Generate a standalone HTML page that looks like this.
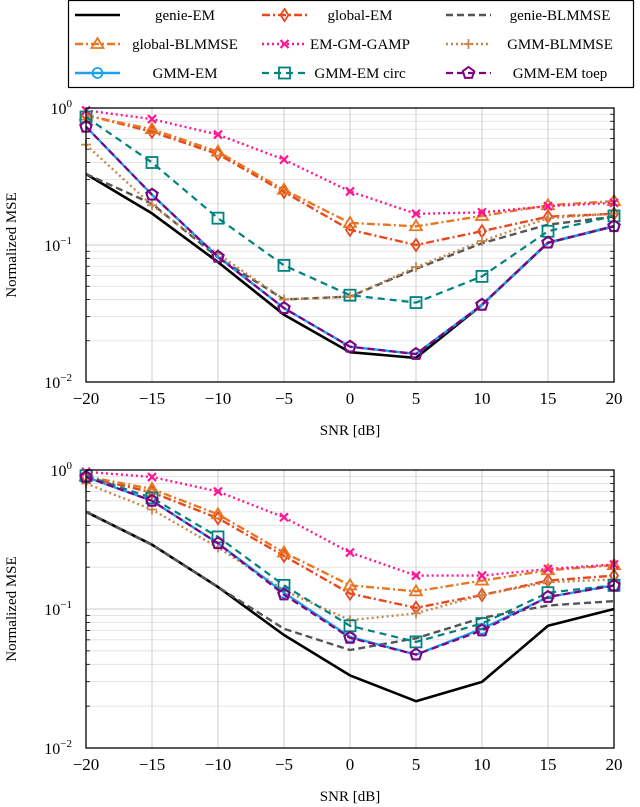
<!DOCTYPE html>
<html><head><meta charset="utf-8">
<style>
body{margin:0;background:#fff;}
svg{display:block;font-family:"Liberation Serif",serif;}
</style></head>
<body>
<svg id="c" width="640" height="807" viewBox="0 0 640 807" xmlns="http://www.w3.org/2000/svg"></svg>
<script>
const snr = [-20,-15,-10,-5,0,5,10,15,20];
const xTicks = [-20,-15,-10,-5,0,5,10,15,20];
const seriesNames = ["genie-EM","global-EM","genie-BLMMSE","global-BLMMSE","EM-GM-GAMP","GMM-BLMMSE","GMM-EM","GMM-EM circ","GMM-EM toep"];
// top panel values
const topGenieEM = [0.33,0.17,0.075,0.031,0.0165,0.015,0.0366,0.104,0.137];
const topGlobalEM = [0.89,0.67,0.46,0.244,0.129,0.1,0.126,0.161,0.169];
const topGenieBL = [0.33,0.2,0.081,0.040,0.042,0.067,0.103,0.141,0.161];
const topGlobalBL = [0.88,0.70,0.48,0.253,0.145,0.137,0.163,0.195,0.209];
const topGamp = [0.96,0.83,0.64,0.42,0.246,0.169,0.173,0.192,0.203];
const topGmmBL = [0.54,0.195,0.086,0.040,0.042,0.069,0.107,0.157,0.17];
const topGmmEM = [0.73,0.233,0.082,0.0346,0.0181,0.016,0.0366,0.104,0.137];
const topCirc = [0.86,0.40,0.157,0.071,0.043,0.038,0.059,0.126,0.163];
const topToep = [0.73,0.233,0.082,0.0346,0.0181,0.016,0.0366,0.104,0.137];
// bottom panel values
const botGenieEM = [0.50,0.29,0.144,0.065,0.0333,0.0217,0.0299,0.0757,0.1];
const botGlobalEM = [0.89,0.69,0.45,0.241,0.129,0.102,0.126,0.16,0.174];
const botGenieBL = [0.5,0.29,0.144,0.072,0.0507,0.0615,0.0863,0.106,0.114];
const botGlobalBL = [0.90,0.73,0.48,0.255,0.148,0.134,0.16,0.19,0.207];
const botGamp = [0.97,0.89,0.70,0.457,0.255,0.174,0.174,0.194,0.209];
const botGmmBL = [0.80,0.52,0.277,0.136,0.083,0.093,0.126,0.156,0.163];
const botGmmEM = [0.89,0.60,0.297,0.131,0.063,0.047,0.072,0.122,0.148];
const botCirc = [0.91,0.63,0.33,0.148,0.0757,0.058,0.0786,0.131,0.148];
const botToep = [0.89,0.60,0.297,0.127,0.062,0.047,0.070,0.122,0.147];

const styles = [
 {c:"#000",w:2.6,d:"",m:null},
 {c:"#e8481c",w:2.4,d:"8 3 2 3",m:"diamond"},
 {c:"#555",w:2.4,d:"7 4",m:null},
 {c:"#e87722",w:2.4,d:"8 3 2 3",m:"triangle"},
 {c:"#ff1493",w:2.4,d:"2 3",m:"x"},
 {c:"#c8864a",w:2.4,d:"2 3",m:"plus"},
 {c:"#1ea0f0",w:2.4,d:"",m:"circle"},
 {c:"#00827f",w:2.2,d:"7 5",m:"square"},
 {c:"#800080",w:2.2,d:"7 4",m:"pentagon"}
];
const NS="http://www.w3.org/2000/svg";
const svg=document.getElementById('c');
function el(t,a,p){const e=document.createElementNS(NS,t);for(const k in a)e.setAttribute(k,a[k]);(p||svg).appendChild(e);return e;}
function marker(g,type,x,y,col){
 let e;
 const s=5.5;
 if(type==="circle") e=el('circle',{cx:x,cy:y,r:5,fill:"none",stroke:col,"stroke-width":1.8},g);
 else if(type==="square") e=el('rect',{x:x-s,y:y-s,width:2*s,height:2*s,fill:"none",stroke:col,"stroke-width":1.8},g);
 else if(type==="diamond") e=el('polygon',{points:`${x},${y-6} ${x+4},${y} ${x},${y+6} ${x-4},${y}`,fill:"none",stroke:col,"stroke-width":1.8},g);
 else if(type==="triangle") e=el('polygon',{points:`${x},${y-6} ${x+6},${y+4} ${x-6},${y+4}`,fill:"none",stroke:col,"stroke-width":1.8},g);
 else if(type==="x") e=el('path',{d:`M${x-4} ${y-4}L${x+4} ${y+4}M${x-4} ${y+4}L${x+4} ${y-4}`,stroke:col,"stroke-width":2.2},g);
 else if(type==="plus") e=el('path',{d:`M${x-5} ${y}L${x+5} ${y}M${x} ${y-5}L${x} ${y+5}`,stroke:col,"stroke-width":1.8},g);
 else if(type==="pentagon"){let p=[];for(let i=0;i<5;i++){const a=-Math.PI/2+i*2*Math.PI/5;p.push((x+6*Math.cos(a)).toFixed(1)+","+(y+6*Math.sin(a)).toFixed(1));}
  e=el('polygon',{points:p.join(' '),fill:"none",stroke:col,"stroke-width":2},g);}
 
 
}
// Legend
const lg=el('g',{});


el('rect',{x:68.5,y:0.5,width:565,height:87,fill:"#fff",stroke:"#000","stroke-width":1.2},lg);
const colX=[[75,120,185],[262,307,360],[446,491,560]];
const rowY=[15,44,73];
seriesNames.forEach((n,i)=>{
 const r=Math.floor(i/3),c=i%3,s=styles[i];
 const e=el('g',{},lg);
 
 
 el('line',{x1:colX[c][0],x2:colX[c][1],y1:rowY[r],y2:rowY[r],stroke:s.c,"stroke-width":s.w,"stroke-dasharray":s.d},e);
 if(s.m) marker(e,s.m,(colX[c][0]+colX[c][1])/2,rowY[r],s.c);
 const t=el('text',{x:colX[c][2],y:rowY[r]+5,"text-anchor":"middle","font-size":15},e);
 t.textContent=n;
});
function panel(name,top,bottom,data){
 const L=86,R=614;
 const g=el('g',{});
 
 
 const xs=v=>L+(v+20)/40*(R-L);
 const ys=v=>top+(-Math.log10(v))/2*(bottom-top);
 for(let d=-2;d<0;d++)for(let k=2;k<10;k++){const y=ys(k*Math.pow(10,d));
  el('line',{x1:L,x2:R,y1:y,y2:y,stroke:"#ddd","stroke-width":0.8},g);
  el('line',{x1:L,x2:L+4,y1:y,y2:y,stroke:"#000","stroke-width":0.8},g);
  el('line',{x1:R-4,x2:R,y1:y,y2:y,stroke:"#000","stroke-width":0.8},g);}
 [1,0.1,0.01].forEach(v=>{const y=ys(v);el('line',{x1:L,x2:R,y1:y,y2:y,stroke:"#ccc","stroke-width":1},g);});
 xTicks.forEach(v=>{const x=xs(v);el('line',{x1:x,x2:x,y1:top,y2:bottom,stroke:"#ccc","stroke-width":1},g);
  const t=el('text',{x:x,y:bottom+22,"text-anchor":"middle","font-size":17},g);
  
  
  t.textContent=v<0?"\u2212"+(-v):String(v);});
 ["0","\u22121","\u22122"].forEach((s,i)=>{const y=top+i*(bottom-top)/2;
  const t=el('text',{x:72,y:y+6,"text-anchor":"end","font-size":16},g);
  
  
  t.innerHTML='10<tspan dy="-7" font-size="11">'+s+'</tspan>';});
 const yl=el('text',{x:0,y:0,transform:`translate(16 ${(top+bottom)/2}) rotate(-90)`,"text-anchor":"middle","font-size":15},g);
 
 
 yl.textContent="Normalized MSE";
 const xl=el('text',{x:(L+R)/2,y:bottom+53,"text-anchor":"middle","font-size":15},g);
 
 
 xl.textContent="SNR [dB]";
 data.forEach((arr,i)=>{const s=styles[i];
  const sg=el('g',{},g);
  
  
  const pts=arr.map((v,j)=>xs(snr[j]).toFixed(1)+","+ys(v).toFixed(1)).join(' ');
  el('polyline',{points:pts,fill:"none",stroke:s.c,"stroke-width":s.w,"stroke-dasharray":s.d,"stroke-linejoin":"round"},sg);
  if(s.m) arr.forEach((v,j)=>marker(sg,s.m,xs(snr[j]),ys(v),s.c));
 });
 el('rect',{x:L,y:top,width:R-L,height:bottom-top,fill:"none",stroke:"#000","stroke-width":1.3},g);
}
panel('top-chart',108,382,[topGenieEM,topGlobalEM,topGenieBL,topGlobalBL,topGamp,topGmmBL,topGmmEM,topCirc,topToep]);
panel('bottom-chart',470,748,[botGenieEM,botGlobalEM,botGenieBL,botGlobalBL,botGamp,botGmmBL,botGmmEM,botCirc,botToep]);
</script>
</body></html>
